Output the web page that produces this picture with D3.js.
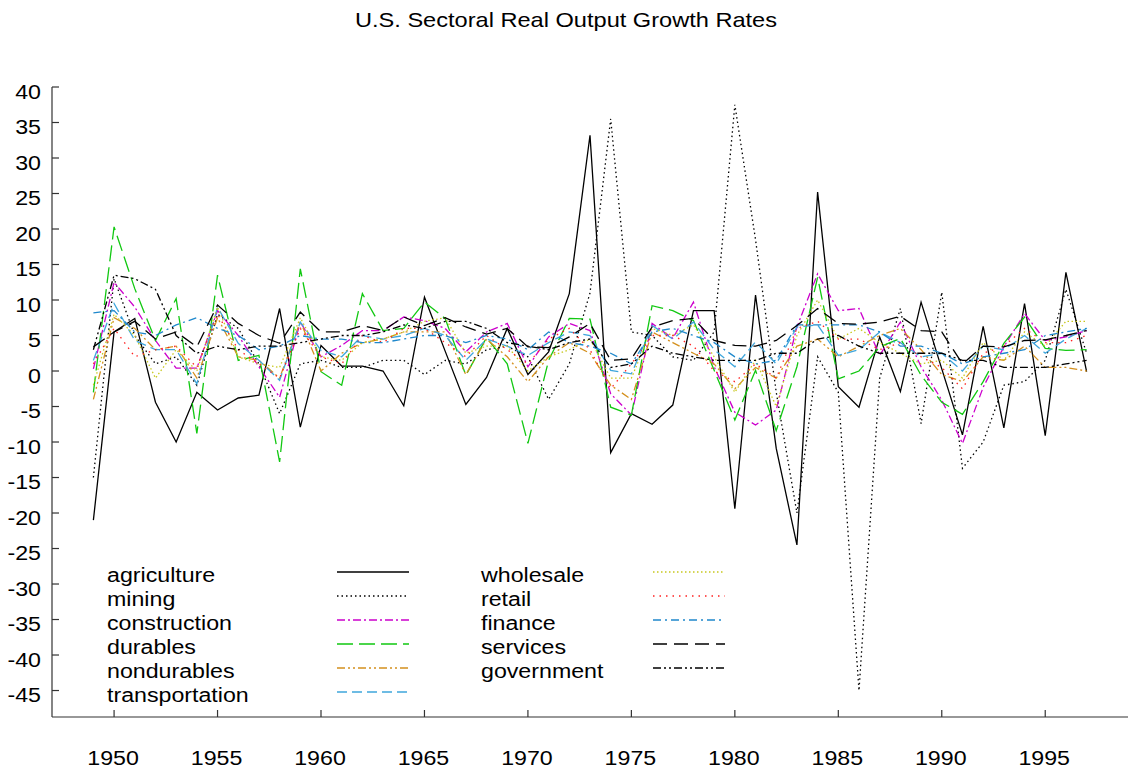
<!DOCTYPE html>
<html>
<head>
<meta charset="utf-8">
<script src="https://cdn.jsdelivr.net/npm/d3@7"></script>
<style>
  body { margin: 0; background: #fff; }
  svg text { font-family: "Liberation Sans", Arial, sans-serif; fill: #000; }
</style>
</head>
<body>
<svg id="chart"></svg>
<script>
// years 1949..1997
var years = [];
for (var yr = 1949; yr <= 1997; yr++) years.push(yr);

var agriculture = [-21, 5.5, 7.4, -4.4, -10, -3, -5.5, -3.8, -3.4, 8.8, -7.9, 3.6, 0.7, 0.7, 0, -4.9, 10.4, 2.8, -4.7, -0.9, 6, -0.5, 2.7, 10.9, 33.2, -11.5, -6, -7.5, -4.8, 8.5, 8.5, -19.4, 10.7, -10.9, -24.5, 25.2, -2.2, -5.1, 4.8, -2.9, 9.7, 0.3, -9, 6.3, -8, 9.5, -9.1, 13.9, -0.1];
var mining = [-15, 13, 5, 1, 2, -2, 8, 6, 1, -6, 1, 1.5, 0.5, 0.5, 1.5, 1.5, -0.5, 1.5, 1, 3, 3.5, 2, -4, 1, 11, 35.5, 5.5, 5, 2, 1.5, 5.5, 37.5, 18.5, -3, -20, 2, -3, -45, -1, 8.8, -7.4, 11.1, -13.7, -10, -2, -1.5, 1.5, 11.5, 2.5];
var construction = [0.3, 12.5, 9, 4.3, 0.4, 0.4, 8.5, 5, 0.6, -3.7, 6.9, 2, 3.6, 5.7, 5.7, 7.6, 7.1, 6, 2.7, 5.5, 6.7, 0.6, 4.8, 6.7, 5.7, -3.2, -6.2, 6.7, 4.6, 9.7, 0.6, -5.8, -7.6, -5.5, 6.2, 13.7, 8.5, 8.8, 2.2, 6.9, 0.6, -4.1, -10.2, -2.3, 3.4, 8.1, 4.3, 4.8, 5.7];
var durables = [-3, 20.3, 11.6, 4.3, 10.2, -8.8, 13.5, 1.5, 2.2, -12.8, 14.4, -0.1, -2, 10.9, 5.7, 6, 9.7, 7.4, -0.6, 4.7, 1, -10.2, 1.5, 7.4, 7.3, -5.1, -6.2, 9.2, 8.5, 7.1, 0.1, -6.9, 0.1, -8.4, 0.6, 13.2, -1.1, 0, 3.4, 4.6, -0.6, -4.4, -6.1, -1.5, 3.9, 7.6, 3.2, 2.9, 3];
var nondurables = [-4, 7.5, 6, 3, 3.5, -1, 7.5, 2, 1.5, -1, 7, 0, 2.5, 4, 4.5, 5.5, 5.5, 5.5, -0.5, 4.5, 2, -1.5, 2, 4, 2.5, -2, -4, 5.5, 4, 2.5, 1, -2.5, 0.5, -1, 3.5, 4.5, 2, 3.5, 5, 6, 3, -0.5, -1.5, 2, 1.5, 3.5, 0.5, 0.5, 0];
var transportation = [1.5, 9.5, 4.3, 3, 3, -1.8, 9, 3.9, 1.5, -1.3, 6.9, 2.9, 2, 5, 4.5, 5, 6, 5, 1.5, 4.5, 3.5, 2.2, 4, 5.5, 5, 0.1, -0.4, 6.4, 4.5, 6.9, 3, 0.6, 4.1, 1, 6.2, 6.5, 2.2, 3, 5.5, 4, 2, 2.5, 0, 3.5, 3, 5, 2.5, 4.5, 6];
var wholesale = [-2, 8, 5, -1, 3, 0, 9, 2, 1, 0.5, 7.5, 2, 1.5, 4, 4.5, 5.5, 7, 7.5, 2.5, 3.5, 3.5, 0, 2, 3, 4.5, -1, -1, 6, 5, 6.5, 2, -3, 1.5, -5, 5, 10, 4.5, 6, 4, 2.5, 1, 1.5, -1, 4, 1.5, 5.5, 3.5, 7, 7];
var retail = [1, 6, 2, 3, 3.5, 0.5, 8, 3, 1, -1, 6, 2, 1, 5, 4, 6, 6, 4, 2, 5, 3, 1, 4.5, 6, 3, -2.5, 1, 5, 5, 3.5, 0, -1.5, 1, -1, 6, 7, 4.5, 4.5, 3, 4, 2, 0.5, -2.5, 2.5, 3.5, 6, 4, 4, 5];
var finance = [8.2, 8.5, 5.5, 5, 6.5, 7.5, 6, 5, 3, 3.5, 5, 4.5, 4.5, 4, 4, 4.5, 5, 5, 4, 5, 4.5, 3, 5.5, 4, 3.5, 2.5, 1, 5.5, 6, 5, 4, 2, 1, 1.5, 6.5, 6.5, 6.5, 6.5, 5.5, 3.5, 3.5, 2.5, 1, 2, 2.5, 3, 5, 5.5, 6];
var services = [3.4, 5.5, 7, 4.5, 5.5, 3.4, 9.3, 6.7, 5, 3.9, 8.3, 5.5, 5.5, 6.4, 5.7, 7.6, 6.4, 7.5, 6.2, 5.2, 6, 3.4, 3.3, 4.8, 6.7, 1.5, 1.7, 6.2, 7.1, 7.4, 4.3, 3.6, 3.5, 4.3, 6.4, 8.8, 6.7, 6.6, 6.9, 7.7, 5.7, 5.5, 1, 3.5, 3.4, 4.3, 4.4, 5, 5.7];
var government = [3, 13.5, 13, 11.5, 5, 2.5, 3.5, 3, 3.5, 3.5, 4, 4.5, 5, 5, 5.5, 6.5, 6, 7, 7, 6, 4, 3.5, 3, 4, 4.5, 0.5, 1, 3.5, 2.5, 2, 1.5, 1.5, 1.5, 2.5, 2.5, 4.5, 5, 3.5, 2.5, 2.5, 2.5, 2.5, 1.5, 1.5, 0.5, 0.5, 0.5, 1, 1.5];

var seriesNames = ['agriculture', 'mining', 'construction', 'durables', 'nondurables', 'transportation',
                   'wholesale', 'retail', 'finance', 'services', 'government'];
var seriesValues = [agriculture, mining, construction, durables, nondurables, transportation,
                    wholesale, retail, finance, services, government];
var seriesColors = ['#000000', '#000000', '#cc00cc', '#11c811', '#d4901e', '#3fa6dc',
                    '#c8c81e', '#ff2020', '#1f88cc', '#000000', '#000000'];
var seriesDash = ['none', '1.5,3', '8,3,2,3', '16,6', '8,3,2,3,2,3', '10,5',
                  '1.5,2.5', '1.5,5', '8,4,2,4', '14,7', '8,3,2,3,2,3'];

var yTicks = [40, 35, 30, 25, 20, 15, 10, 5, 0, -5, -10, -15, -20, -25, -30, -35, -40, -45];
var xTicks = [1950, 1955, 1960, 1965, 1970, 1975, 1980, 1985, 1990, 1995];

(function() {
  var width = 1135, height = 769;
  var plotLeft = 52, plotRight = 1128, plotTop = 87, plotBottom = 717;
  var stretch = 1.16; // glyphs in the reference are a bit wider than Liberation Sans

  var svg = d3.select('#chart')
    .attr('width', width)
    .attr('height', height);

  var x = d3.scaleLinear().domain([1947, 1999]).range([plotLeft, plotRight]);
  var y = d3.scaleLinear().domain([-48.73, 40]).range([plotBottom, plotTop]);

  function label(tx, ty, str, anchor, sx) {
    return svg.append('text')
      .attr('transform', 'translate(' + tx + ',' + ty + ') scale(' + (sx || stretch) + ',1)')
      .attr('text-anchor', anchor || 'start')
      .attr('font-size', '20px')
      .text(str);
  }

  // title
  label(566, 27, 'U.S. Sectoral Real Output Growth Rates', 'middle', 1.18);

  // axes: left and bottom lines with inward ticks
  svg.append('line')
    .attr('x1', plotLeft).attr('x2', plotLeft)
    .attr('y1', plotTop).attr('y2', plotBottom)
    .attr('stroke', '#333').attr('stroke-width', 1.2);
  svg.append('line')
    .attr('x1', plotLeft).attr('x2', plotRight)
    .attr('y1', plotBottom).attr('y2', plotBottom)
    .attr('stroke', '#333').attr('stroke-width', 1.2);

  yTicks.forEach(function(t){
    svg.append('line')
      .attr('x1', plotLeft).attr('x2', plotLeft + 7)
      .attr('y1', y(t)).attr('y2', y(t))
      .attr('stroke', '#333').attr('stroke-width', 1.2);
    label(41, y(t) + 11.5, t, 'end');
  });

  xTicks.forEach(function(t){
    svg.append('line')
      .attr('x1', x(t)).attr('x2', x(t))
      .attr('y1', plotBottom).attr('y2', plotBottom - 7)
      .attr('stroke', '#333').attr('stroke-width', 1.2);
    label(x(t) - 1, 765, t, 'middle');
  });

  // series lines
  var line = d3.line()
    .x(function(d, i){ return x(years[i]); })
    .y(function(d){ return y(d); });

  seriesValues.forEach(function(vals, k){
    svg.append('path')
      .datum(vals)
      .attr('d', line)
      .attr('fill', 'none')
      .attr('stroke', seriesColors[k])
      .attr('stroke-width', 1.3)
      .attr('stroke-dasharray', seriesDash[k]);
  });

  // legend, two columns
  seriesNames.forEach(function(name, k){
    var col = k < 6 ? 0 : 1;
    var row = k < 6 ? k : k - 6;
    var cy = 572 + row * 24;
    var tx = col == 0 ? 107 : 481;
    var lx = col == 0 ? 337 : 653;
    label(tx, cy + 10, name, 'start');
    svg.append('line')
      .attr('x1', lx).attr('x2', lx + 72)
      .attr('y1', cy).attr('y2', cy)
      .attr('stroke', seriesColors[k])
      .attr('stroke-width', 1.3)
      .attr('stroke-dasharray', seriesDash[k]);
  });
})();
</script>
</body>
</html>
